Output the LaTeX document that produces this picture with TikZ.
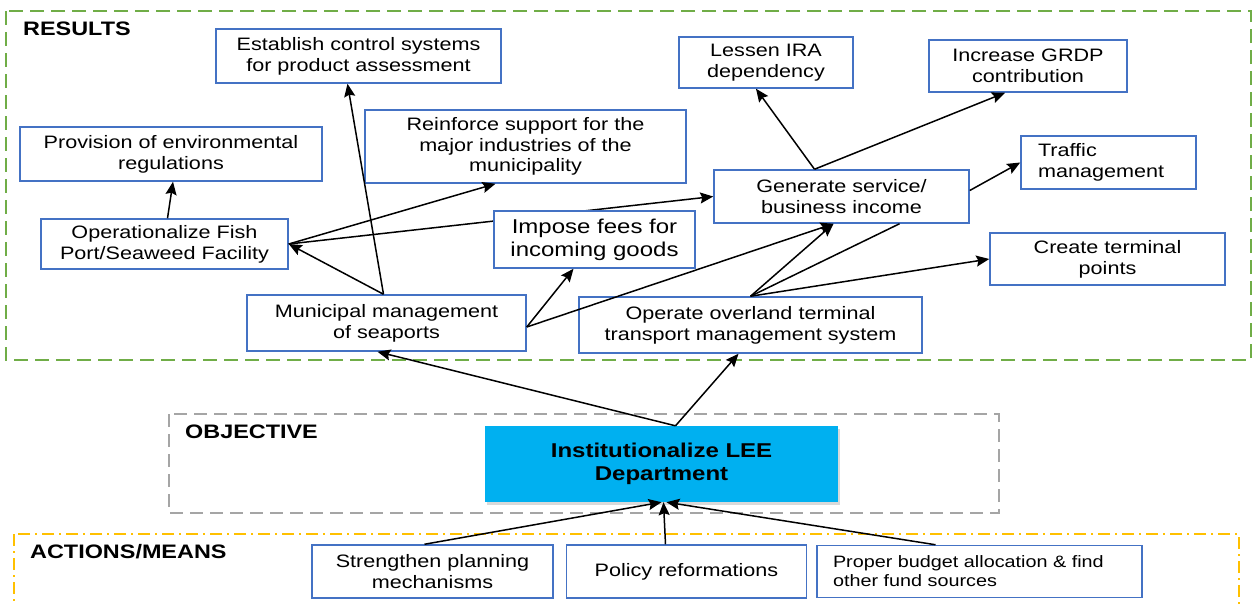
\documentclass[tikz,border=0pt]{standalone}
\usepackage{fontspec}
\setmainfont{Liberation Sans}[FakeStretch=1.2]
\usetikzlibrary{shapes.geometric, arrows.meta, calc, positioning, shadows}

\definecolor{boxblue}{HTML}{4472C4}
\definecolor{resgreen}{HTML}{70AD47}
\definecolor{objgray}{HTML}{A5A5A5}
\definecolor{actyellow}{HTML}{FFC000}
\definecolor{leecyan}{HTML}{00B0F0}

\tikzstyle{result} = [rectangle, draw=boxblue, line width=1.5pt, fill=white, inner sep=0pt,
text centered, align=center, font=\fontsize{18}{21}\selectfont]
\tikzstyle{objective} = [rectangle, fill=leecyan, inner sep=0pt, align=center,
font=\bfseries\fontsize{20}{23}\selectfont, drop shadow={shadow xshift=2pt, shadow yshift=-3pt, opacity=0.3}]
\tikzstyle{heading} = [anchor=base west, inner sep=0pt, font=\bfseries\fontsize{19.5}{22}\selectfont]
\tikzstyle{frame} = [line width=1.5pt]
\tikzstyle{arrow} = [line width=1.5pt, -{Stealth[length=13pt, width=11pt, inset=2pt]}]
\tikzstyle{link} = [line width=1.5pt]

\begin{document}
\begin{tikzpicture}[x=1pt, y=-1pt]
  \useasboundingbox (0,0) rectangle (1252,605);
  \clip (0,0) rectangle (1252,605);

  % the three frames
  \draw [frame, resgreen, dash pattern=on 14pt off 7pt] (6,11) rectangle (1251,360);
  \draw [frame, objgray, dash pattern=on 13pt off 7pt] (169,414) rectangle (999,513);
  \draw [frame, actyellow, dash pattern=on 12pt off 5pt on 2pt off 5pt] (14,534) rectangle (1239,625);
  \node (reslbl) [heading] at (23,35) {RESULTS};
  \node (objlbl) [heading] at (185,438) {OBJECTIVE};
  \node (actlbl) [heading] at (30,558) {ACTIONS/MEANS};

  % results
  \node (est) [result, minimum width=285pt, minimum height=54pt] at (358.5,56) {Establish control systems\\for product assessment};
  \node (prov) [result, minimum width=302pt, minimum height=54pt] at (171,154) {Provision of environmental\\regulations};
  \node (fish) [result, minimum width=247pt, minimum height=50pt] at (164.5,244) {Operationalize Fish\\Port/Seaweed Facility};
  \node (reinf) [result, minimum width=321pt, minimum height=73pt, font=\fontsize{18}{20.5}\selectfont] at (525.5,146.5) {Reinforce support for the\\major industries of the\\municipality};
  \node (lessen) [result, minimum width=174pt, minimum height=51pt] at (766,62.5) {Lessen IRA\\dependency};
  \node (grdp) [result, minimum width=198pt, minimum height=52pt] at (1028,66) {Increase GRDP\\contribution};
  \node (gen) [result, minimum width=255pt, minimum height=53pt] at (841.5,196.5) {Generate service/\\business income};
  \node (traffic) [result, minimum width=175pt, minimum height=53pt, text width=141pt, align=left] at (1108.5,162.5) {Traffic\\management};
  \node (term) [result, minimum width=235pt, minimum height=52pt] at (1107.5,259) {Create terminal\\points};
  \node (muni) [result, minimum width=279pt, minimum height=56pt] at (386.5,323) {Municipal management\\of seaports};
  \node (oper) [result, minimum width=343pt, minimum height=56pt] at (750.5,325) {Operate overland terminal\\transport management system};

  % objective
  \node (lee) [objective, minimum width=353pt, minimum height=76pt] at (661.5,464) {Institutionalize LEE\\Department};

  % actions/means
  \node (streng) [result, minimum width=241pt, minimum height=53pt] at (432.5,571.5) {Strengthen planning\\mechanisms};
  \node (policy) [result, minimum width=240pt, minimum height=53pt, right=12pt of streng] {Policy reformations};
  \node (budget) [result, minimum width=325pt, minimum height=52pt, text width=293pt, align=left,
    font=\fontsize{16.5}{19}\selectfont, right=9pt of policy] {Proper budget allocation \& find\\other fund sources};

  % this one runs under the fee box
  \draw [arrow] (fish.east) -- (gen.west);
  \node (fees) [result, minimum width=201pt, minimum height=57pt, font=\fontsize{20}{23}\selectfont] at (594.5,239.5) {Impose fees for\\incoming goods};

  \draw [arrow] ([xshift=3pt]fish.north) -- ([xshift=2pt]prov.south);
  \draw [arrow] ([xshift=-3pt]muni.north) -- ([xshift=-11pt]est.south);
  \draw [arrow] ([xshift=-3pt]muni.north) -- (fish.east);
  \draw [arrow] (fish.east) -- ([xshift=-30pt]reinf.south);
  \draw [arrow] ([yshift=-4pt]muni.east) -- ([xshift=-21pt]fees.south);
  \draw [arrow] ([yshift=-4pt]muni.east) -- ([xshift=-8pt]gen.south);
  \draw [arrow] (oper.north) -- ([xshift=-8pt]gen.south);
  \draw [link] (oper.north) -- ([xshift=58pt]gen.south);
  \draw [arrow] (oper.north) -- (term.west);
  \draw [arrow] ([xshift=-27pt]gen.north) -- ([xshift=-10pt]lessen.south);
  \draw [arrow] ([xshift=-27pt]gen.north) -- ([xshift=-23pt]grdp.south);
  \draw [arrow] ([yshift=6pt]gen.east) -- (traffic.west);

  \draw [arrow] ([xshift=14pt]lee.north) -- ([xshift=-9pt]muni.south);
  \draw [arrow] ([xshift=14pt]lee.north) -- ([xshift=-12pt]oper.south);
  \draw [arrow] ([xshift=-8pt]streng.north) -- (lee.south);
  \draw [arrow] ([xshift=-21pt]policy.north) -- ([xshift=2pt]lee.south);
  \draw [arrow] ([xshift=-44pt]budget.north) -- ([xshift=5pt]lee.south);
\end{tikzpicture}
\end{document}
